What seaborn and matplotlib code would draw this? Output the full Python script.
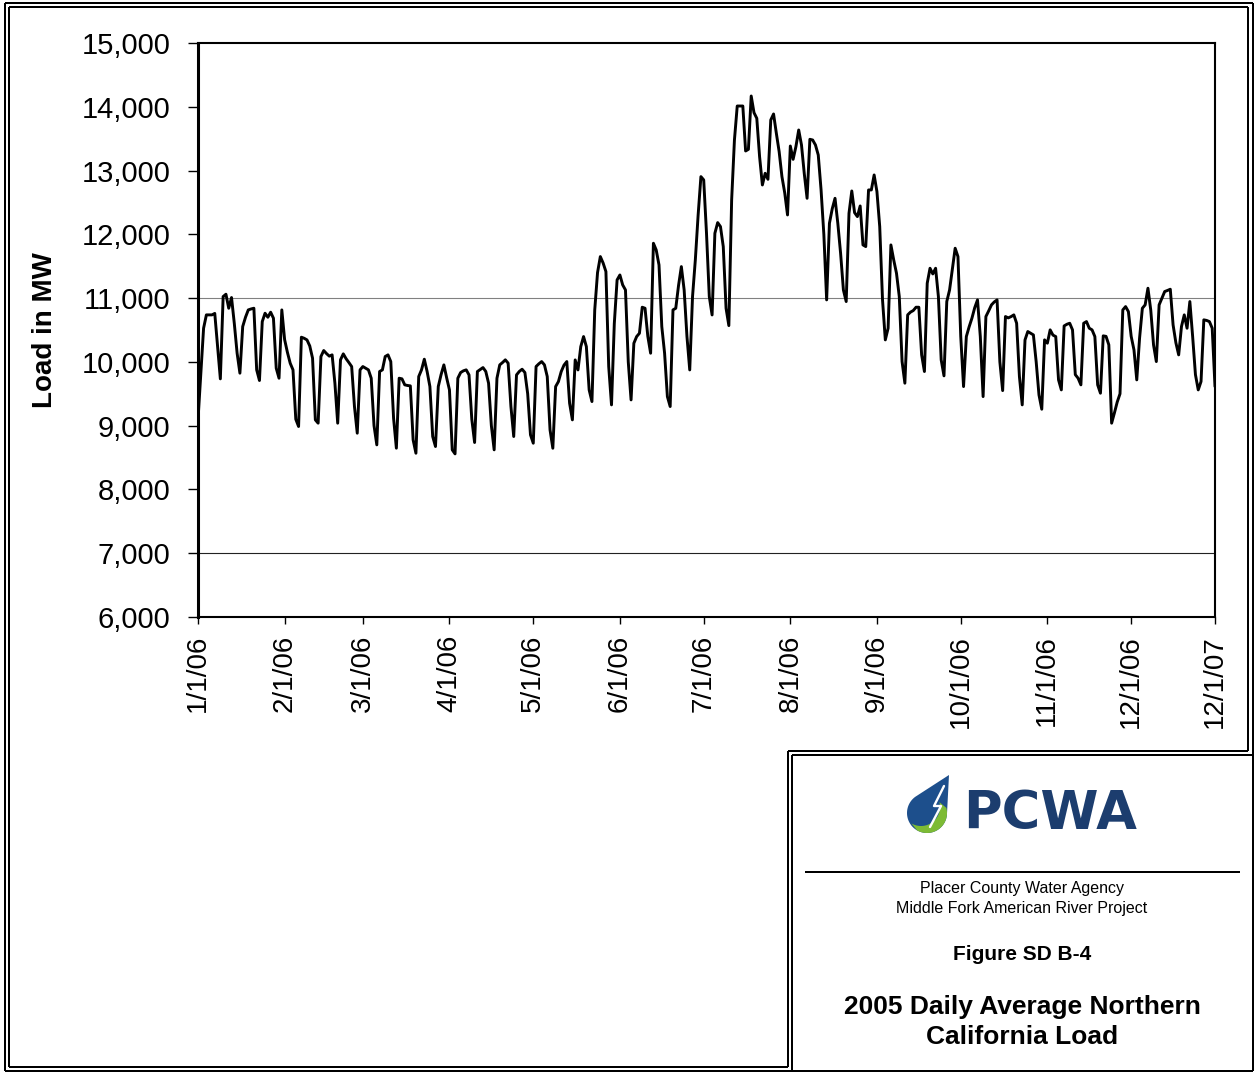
import numpy as np
import pandas as pd
import matplotlib
matplotlib.use('Agg')
import matplotlib.pyplot as plt
from matplotlib.patches import Polygon
from matplotlib.ticker import FuncFormatter
import seaborn as sns

# daily average load in MW, one value per day
jan = [9091, 9800, 10528, 10737, 10737, 10737, 10760, 10250, 9734, 11024,
       11061, 10841, 11009, 10600, 10136, 9823, 10554, 10700, 10815, 10830,
       10841, 9875, 9708, 10632, 10763, 10700, 10779, 10685, 9901, 9744, 10815]
feb = [10350, 10150, 9979, 9875, 9101, 8987, 10387, 10370, 10345, 10250,
       10058, 9091, 9039, 10084, 10178, 10130, 10090, 10110, 9666, 9039,
       10032, 10126, 10050, 9990, 9927, 9300, 8882, 9875]
mar = [9927, 9900, 9875, 9744, 9000, 8699, 9849, 9875, 10084, 10110,
       10005, 9117, 8647, 9744, 9734, 9640, 9630, 9624, 8777, 8568,
       9770, 9875, 10042, 9850, 9614, 8830, 8673, 9614, 9800, 9953, 9750]
apr = [9561, 8621, 8558, 9744, 9833, 9860, 9875, 9796, 9100, 8736,
       9849, 9880, 9911, 9850, 9666, 9000, 8621, 9744, 9953, 9990,
       10032, 9980, 9300, 8830, 9796, 9850, 9885, 9833, 9500, 8856]
may = [8725, 9927, 9970, 10005, 9953, 9770, 8934, 8646, 9613, 9691,
       9848, 9950, 10005, 9352, 9091, 10031, 9874, 10240, 10397, 10240,
       9561, 9378, 10815, 11400, 11651, 11550, 11416, 9927, 9326, 10600, 11285]
jun = [11363, 11207, 11128, 10000, 9404, 10292, 10397, 10449, 10857, 10841,
       10400, 10136, 11860, 11755, 11520, 10553, 10136, 9456, 9300, 10815,
       10841, 11200, 11494, 11128, 10400, 9874, 11024, 11598, 12300, 12905]
jul = [12853, 12017, 11024, 10736, 12017, 12184, 12121, 11808, 10841, 10569,
       12539, 13480, 14012, 14012, 14012, 13307, 13333, 14169, 13908, 13819,
       13218, 12774, 12957, 12863, 13793, 13887, 13584, 13297, 12905, 12650, 12304]
aug = [13385, 13176, 13375, 13636, 13400, 12950, 12565, 13490, 13479, 13401,
       13244, 12700, 12000, 10972, 12173, 12400, 12565, 12173, 11700, 11128,
       10946, 12330, 12680, 12340, 12278, 12445, 11834, 11808, 12696, 12696, 12931]
sep = [12670, 12121, 10972, 10345, 10528, 11834, 11600, 11390, 11024, 10005,
       9666, 10737, 10780, 10805, 10857, 10857, 10110, 9849, 11233, 11468,
       11379, 11468, 11024, 10031, 9781, 10946, 11128, 11450, 11782, 11651]
oct_ = [10397, 9613, 10397, 10550, 10685, 10850, 10972, 10397, 9456, 10711,
        10800, 10894, 10940, 10972, 10000, 9550, 10711, 10690, 10710, 10737,
        10606, 9770, 9326, 10345, 10476, 10450, 10423, 10000, 9482, 9258, 10345]
nov = [10293, 10502, 10420, 10397, 9718, 9561, 10564, 10590, 10606, 10502,
       9800, 9744, 9640, 10606, 10632, 10528, 10502, 10397, 9640, 9509,
       10408, 10400, 10267, 9039, 9200, 9370, 9500, 10815, 10867, 10789]
dec = [10400, 10188, 9718, 10371, 10841, 10894, 11155, 10815, 10267, 10005,
       10894, 11000, 11103, 11120, 11139, 10580, 10300, 10110, 10554, 10737,
       10528, 10946, 10397, 9800, 9561, 9692, 10659, 10650, 10632, 10528, 9613]

load_mw = jan + feb + mar + apr + may + jun + jul + aug + sep + oct_ + nov + dec

x_tick_labels = ['1/1/06', '2/1/06', '3/1/06', '4/1/06', '5/1/06', '6/1/06',
                 '7/1/06', '8/1/06', '9/1/06', '10/1/06', '11/1/06', '12/1/06',
                 '12/1/07']
y_ticks = [6000, 7000, 8000, 9000, 10000, 11000, 12000, 13000, 14000, 15000]
grid_levels = [7000, 11000]
grid_colors = ['#222222', '#808080']

sns.set_theme(style='white')
plt.rcParams['font.family'] = ['Liberation Sans', 'DejaVu Sans']

W, H = 1255, 1073
fig = plt.figure(figsize=(W / 100, H / 100), dpi=100)

# page decoration (frame, title block) drawn in pixel coordinates
deco = fig.add_axes([0, 0, 1, 1])
deco.set_xlim(0, W)
deco.set_ylim(H, 0)
deco.axis('off')


def seg(x0, y0, x1, y1, lw=2.0, color='black'):
    deco.plot([x0, x1], [y0, y1], color=color, lw=lw * 0.72,
              solid_capstyle='butt')


# outer double frame
seg(5, 3, 1252.5, 3)
seg(5, 3, 5, 1071)
seg(1252.5, 3, 1252.5, 1071)
seg(5, 1071, 1252.5, 1071)
seg(9, 7, 1248, 7)
seg(9, 7, 9, 1067)
seg(1248, 7, 1248, 751)
seg(9, 1067, 788, 1067)
# title block box
seg(788, 751, 788, 1067)
seg(788, 751, 1248, 751)
seg(792, 755, 792, 1071)
seg(792, 755, 1252.5, 755)
seg(805, 872, 1240, 872)

# PCWA drop logo
cx, cy, r = 927, 813, 20
t = np.radians(np.linspace(3, 234, 60))
drop = np.column_stack([cx + r * np.cos(t), cy + r * np.sin(t)])
drop = np.vstack([drop, [[949, 775]]])
deco.add_patch(Polygon(drop, closed=True, facecolor='#1d4f8c', edgecolor='none'))
t1 = np.radians(np.linspace(-15, 120, 40))
t2 = np.radians(np.linspace(120, -15, 40))
outer = np.column_stack([cx + r * np.cos(t1), cy + r * np.sin(t1)])
inner = np.column_stack([cx - 6 + 19 * np.cos(t2), cy - 6 + 19 * np.sin(t2)])
deco.add_patch(Polygon(np.vstack([outer, inner]), closed=True,
                       facecolor='#7dbb35', edgecolor='none'))
deco.plot([944, 934, 941, 930], [786, 806, 806, 827], color='white', lw=1.7)
deco.text(1050, 814, 'PCWA', fontsize=38, fontweight='bold', color='#1c3d6e',
          family=['DejaVu Sans'], ha='center', va='center')

deco.text(1022, 889, 'Placer County Water Agency', fontsize=11.5,
          ha='center', va='center', color='black')
deco.text(1022, 908, 'Middle Fork American River Project', fontsize=11.5,
          ha='center', va='center', color='black')
deco.text(1022, 955, 'Figure SD B-4', fontsize=15, fontweight='bold',
          ha='center', va='center', color='black')
deco.text(1022, 1007, '2005 Daily Average Northern', fontsize=19,
          fontweight='bold', ha='center', va='center', color='black')
deco.text(1022, 1037, 'California Load', fontsize=19,
          fontweight='bold', ha='center', va='center', color='black')

# chart
ax = fig.add_axes([198 / W, (H - 617) / H, (1215 - 198) / W, (617 - 43) / H])
ax.set_facecolor('white')

df = pd.DataFrame({
    'date': pd.date_range('2006-01-01', periods=len(load_mw), freq='D'),
    'load': load_mw,
})

for level, c in zip(grid_levels, grid_colors):
    ax.axhline(level, color=c, lw=0.8, zorder=1)

sns.lineplot(data=df, x='date', y='load', color='black', linewidth=2.1,
             ax=ax, zorder=3)

tick_pos = list(pd.date_range('2006-01-01', '2006-12-01', freq='MS')) + [df['date'].iloc[-1]]
ax.set_xticks(tick_pos)
ax.set_xticklabels(x_tick_labels, rotation=90)
ax.set_xlim(df['date'].iloc[0], df['date'].iloc[-1])

ax.set_yticks(y_ticks)
ax.set_ylim(y_ticks[0], y_ticks[-1])
ax.yaxis.set_major_formatter(FuncFormatter(lambda v, p: f'{v:,.0f}'))

ax.tick_params(axis='y', left=True, length=7, width=1, direction='out',
               pad=13, labelsize=21, labelcolor='black', color='black')
ax.tick_params(axis='x', bottom=True, length=5, width=1, direction='out',
               pad=8, labelsize=20, labelcolor='black', color='black')

for side in ['top', 'right', 'bottom']:
    ax.spines[side].set_color('black')
    ax.spines[side].set_linewidth(1.5)
ax.spines['left'].set_color('black')
ax.spines['left'].set_linewidth(2.2)

ax.set_xlabel('')
ax.set_ylabel('Load in MW', fontsize=20, fontweight='bold', color='black')
ax.yaxis.set_label_coords(-0.138, 0.5)

fig.savefig('out.png', dpi=100, facecolor='white')
